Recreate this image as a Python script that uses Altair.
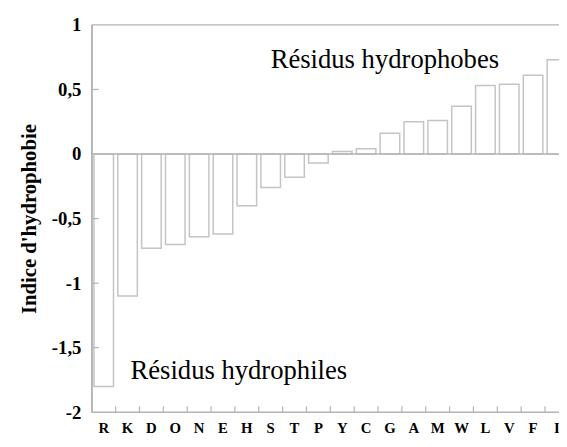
import altair as alt
import pandas as pd

residues = ["R", "K", "D", "O", "N", "E", "H", "S", "T", "P",
            "Y", "C", "G", "A", "M", "W", "L", "V", "F", "I"]
values = [-1.80, -1.10, -0.73, -0.70, -0.64, -0.62, -0.40, -0.26, -0.18, -0.07,
          0.02, 0.04, 0.16, 0.25, 0.26, 0.37, 0.53, 0.54, 0.61, 0.73]
y_ticks = [-2, -1.5, -1, -0.5, 0, 0.5, 1]
inner_ticks = [-1.5, -1, -0.5, 0.5]
y_title = "Indice d'hydrophobie"
note_hydrophobe = "Résidus hydrophobes"
note_hydrophile = "Résidus hydrophiles"

FONT = "Liberation Serif"
LINE = "#b4b4b4"
BAR = "#c4c4c4"
W, H = 474, 393
XR = 484  # x range runs past the visible area, as in the cropped original

df = pd.DataFrame({"res": residues, "value": values})
xscale = alt.Scale(domain=residues, paddingInner=0.18, paddingOuter=0.09, range=[0, XR])
yscale = alt.Scale(domain=[-2, 1], nice=False)

xenc = alt.X("res:N", sort=residues, scale=xscale, title=None,
             axis=alt.Axis(labelAngle=0, labelFontSize=15, labelPadding=9))
yaxis = alt.Axis(values=y_ticks, labelExpr="replace(toString(datum.value), '.', ',')",
                 labelFontSize=19, labelPadding=11, titleFontSize=21,
                 titleFont=FONT, titleFontWeight="bold", titlePadding=12)

bars = alt.Chart(df).mark_bar(fill="white", stroke=BAR, strokeWidth=1.5).encode(
    x=xenc,
    y=alt.Y("value:Q", scale=yscale, axis=yaxis, title=y_title),
    y2=alt.datum(0),
)

frame_h = pd.DataFrame({"b": [-2, 0, 1]})
hlines = alt.Chart(frame_h).mark_rule(color=LINE, strokeWidth=1.5).encode(
    y=alt.Y("b:Q", scale=yscale, title=y_title),
    x=alt.value(0),
    x2=alt.value(XR),
)
vline = alt.Chart(frame_h).mark_rule(color=LINE, strokeWidth=1.5).encode(
    x=alt.value(0),
    y=alt.datum(-2),
    y2=alt.datum(1),
)

xt = pd.DataFrame({"res": residues[1:]})
xticks = alt.Chart(xt).mark_rule(color=LINE, strokeWidth=1.2, xOffset=-2.18).encode(
    x=alt.X("res:N", sort=residues, scale=xscale, bandPosition=0, title=None),
    y=alt.datum(-2),
    y2=alt.datum(-1.9544),
)

yt = pd.DataFrame({"t": inner_ticks})
yticks = alt.Chart(yt).mark_rule(color=LINE, strokeWidth=1.2).encode(
    y=alt.Y("t:Q", scale=yscale, title=y_title),
    x=alt.value(0),
    x2=alt.value(7),
)

t1 = alt.Chart(pd.DataFrame({"res": ["S"], "v": [0.663], "t": [note_hydrophobe]})).mark_text(
    align="left", baseline="alphabetic", font=FONT, fontSize=27, color="black"
).encode(
    x=alt.X("res:N", sort=residues, scale=xscale, title=None),
    y=alt.Y("v:Q", scale=yscale, title=y_title),
    text="t:N",
)

t2 = alt.Chart(pd.DataFrame({"res": ["K"], "v": [-1.746], "t": [note_hydrophile]})).mark_text(
    align="left", baseline="alphabetic", font=FONT, fontSize=27, color="black", dx=3
).encode(
    x=alt.X("res:N", sort=residues, scale=xscale, title=None),
    y=alt.Y("v:Q", scale=yscale, title=y_title),
    text="t:N",
)

chart = alt.layer(bars, hlines, vline, xticks, yticks, t1, t2).properties(
    width=W,
    height=H,
    autosize=alt.AutoSizeParams(type="none"),
    padding={"left": 85, "top": 14, "right": 0, "bottom": 24},
    background="white",
).configure_view(
    stroke=None
).configure_axis(
    labelFont=FONT, labelFontWeight="bold", labelColor="black",
    domain=False, ticks=False, grid=False, titleColor="black",
)

chart.save("out.html", embed_options={"renderer": "svg", "actions": False})
